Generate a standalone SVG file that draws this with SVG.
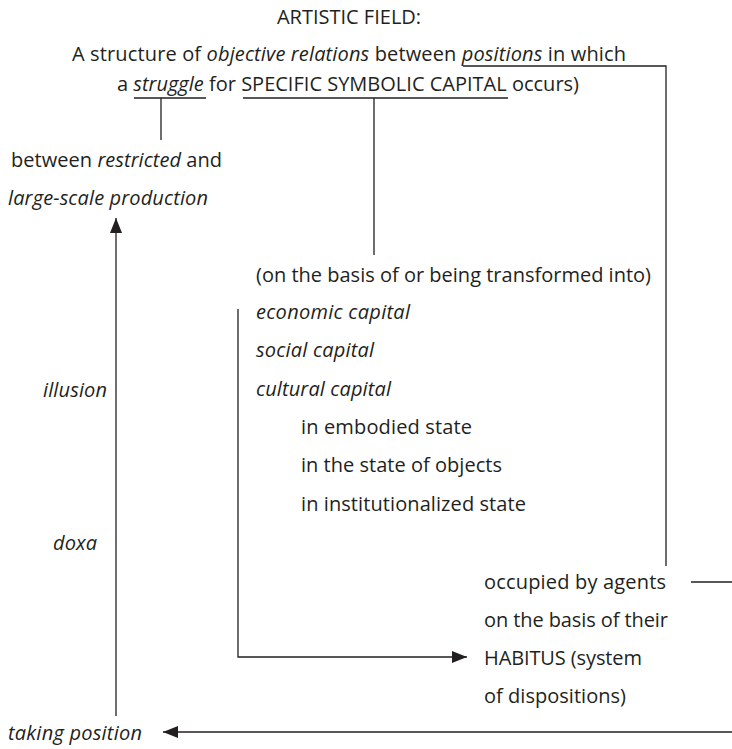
<svg xmlns="http://www.w3.org/2000/svg" width="732" height="749" viewBox="0 0 732 749">
  <style>
    text { font-family: "Open Sans", "Noto Sans", "Liberation Sans", sans-serif; font-size: 20px; fill: #231f20; }
    .it { font-style: italic; }
    .wire { fill: none; stroke: #231f20; stroke-width: 1.3; }
  </style>
  <defs>
    <marker id="head" markerUnits="userSpaceOnUse" markerWidth="16" markerHeight="12" refX="15" refY="6" orient="auto">
      <path d="M0,0 L15,6 L0,12 z" fill="#231f20"/>
    </marker>
  </defs>
  <rect width="732" height="749" fill="#ffffff"/>

  <g id="title">
    <text x="349" y="24" text-anchor="middle">ARTISTIC FIELD:</text>
  </g>

  <g id="definition">
    <text x="72" y="61" textLength="554">A structure of <tspan class="it">objective relations</tspan> between <tspan class="it">positions</tspan> in which</text>
    <text x="117" y="91" textLength="462">a <tspan class="it">struggle</tspan> for SPECIFIC SYMBOLIC CAPITAL occurs)</text>
  </g>

  <g id="production">
    <text x="11" y="167" textLength="211">between <tspan class="it">restricted</tspan> and</text>
    <text x="8" y="205" class="it" textLength="200">large-scale production</text>
  </g>

  <g id="capitals">
    <text x="256" y="282" textLength="395">(on the basis of or being transformed into)</text>
    <text x="256" y="319" class="it" textLength="154">economic capital</text>
    <text x="256" y="357" class="it" textLength="118">social capital</text>
    <text x="256" y="396" class="it" textLength="135">cultural capital</text>
    <text x="301" y="434" textLength="171">in embodied state</text>
    <text x="301" y="472" textLength="201">in the state of objects</text>
    <text x="301" y="511" textLength="225">in institutionalized state</text>
  </g>

  <g id="illusion">
    <text x="43" y="397" class="it" textLength="64">illusion</text>
  </g>

  <g id="doxa">
    <text x="53" y="550" class="it" textLength="44">doxa</text>
  </g>

  <g id="agents">
    <text x="484" y="589" textLength="182">occupied by agents</text>
    <text x="484" y="627" textLength="184">on the basis of their</text>
  </g>

  <g id="habitus">
    <text x="484" y="665" textLength="158">HABITUS (system</text>
    <text x="484" y="703" textLength="142">of dispositions)</text>
  </g>

  <g id="taking-position">
    <text x="8" y="740" class="it" textLength="134">taking position</text>
  </g>

  <g id="connectors">
    <!-- underline of "struggle" dropping to the production pair -->
    <path class="wire" d="M134,98 H206 M161,98 V140"/>
    <!-- underline of the symbolic capital dropping to the capital list -->
    <path class="wire" d="M243,98 H508 M374,98 V255"/>
    <!-- underline of "positions" running round to the agents -->
    <path class="wire" d="M463,66 H666 V566"/>
    <!-- agents continuing off to the right -->
    <path class="wire" d="M691,582 H732"/>
    <!-- capital list feeding the habitus -->
    <path class="wire" d="M238,309 V657 H467" marker-end="url(#head)"/>
    <!-- return loop into position-taking -->
    <path class="wire" d="M732,732 H163" marker-end="url(#head)"/>
    <!-- position-taking rising to the production pair -->
    <path class="wire" d="M116,716 V218" marker-end="url(#head)"/>
  </g>
</svg>
